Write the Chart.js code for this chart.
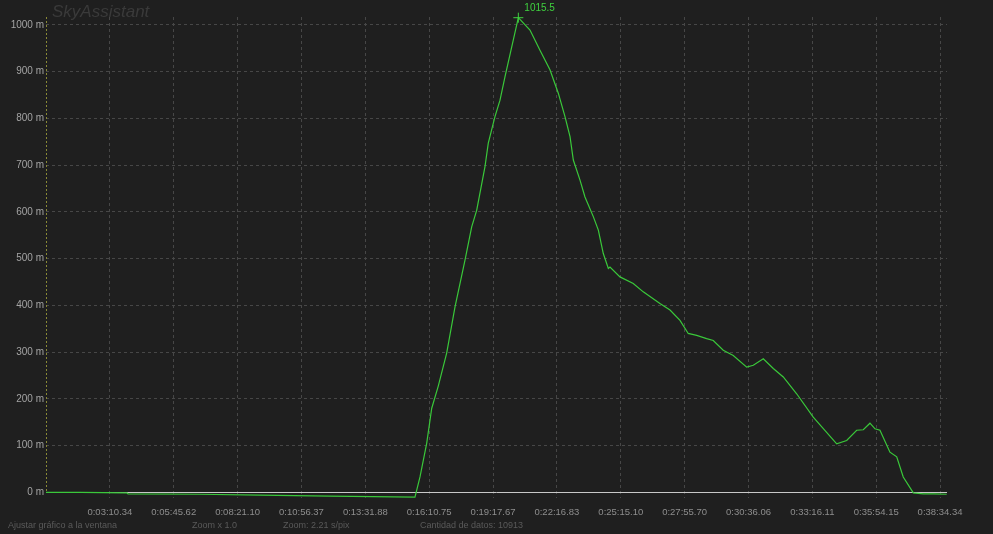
<!DOCTYPE html>
<html>
<head>
<meta charset="utf-8">
<script src="https://cdn.jsdelivr.net/npm/chart.js@4.4.1/dist/chart.umd.min.js"></script>
<style>
html, body { margin: 0; padding: 0; background: #1f1f1f; overflow: hidden; }
#wrap { width: 993px; height: 534px; position: relative; }
</style>
</head>
<body>
<div id="wrap"><canvas id="c" width="993" height="534"></canvas></div>
<script>
// sample index (of 10913) and altitude in metres
var sampleIdx = [0, 412, 981, 993, 1865, 2592, 3440, 4469, 4530, 4611, 4672, 4752, 4853, 4954, 5075, 5156, 5217,
    5317, 5357, 5438, 5499, 5559, 5721, 5862, 5983, 6104, 6205, 6286, 6347, 6387, 6468, 6528, 6629, 6690,
    6750, 6811, 6831, 6952, 7113, 7234, 7436, 7558, 7679, 7779, 7881, 8002, 8082, 8203, 8324, 8487, 8567,
    8688, 8809, 8930, 9092, 9293, 9577, 9698, 9819, 9899, 9980, 10041, 10101, 10222, 10304, 10383, 10505,
    10626, 10747, 10909];
var altitude = [0, 0, -1, -3, -4, -6, -8, -10, 33, 105, 180, 228, 298, 397, 497, 568, 604,
    697, 747, 804, 839, 889, 1015.5, 989, 946, 904, 854, 804, 761, 711, 668, 632, 590, 561,
    511, 479, 482, 461, 447, 429, 404, 390, 368, 340, 336, 329, 325, 304, 293, 268, 272,
    286, 265, 247, 211, 161, 104, 111, 133, 134, 148, 136, 133, 86, 76, 33, -1,
    -3, -3, -4];

var tickIdx = [774, 1547, 2321, 3094, 3868, 4641, 5415, 6188, 6962, 7735, 8509, 9282, 10056, 10829];
var tickLabels = ['0:03:10.34', '0:05:45.62', '0:08:21.10', '0:10:56.37', '0:13:31.88', '0:16:10.75', '0:19:17.67',
    '0:22:16.83', '0:25:15.10', '0:27:55.70', '0:30:36.06', '0:33:16.11', '0:35:54.15', '0:38:34.34'];
var yTicks = [0, 100, 200, 300, 400, 500, 600, 700, 800, 900, 1000];

var statusTexts = ['Ajustar gráfico a la ventana', 'Zoom x 1.0', 'Zoom: 2.21 s/pix', 'Cantidad de datos: 10913'];

var points = sampleIdx.map(function (v, i) { return { x: v, y: altitude[i] }; });

var decor = {
    id: 'decor',
    beforeDatasetsDraw: function (chart) {
        var ctx = chart.ctx, a = chart.chartArea, ys = chart.scales.y;
        ctx.save();
        // watermark
        ctx.font = 'italic 17px "Liberation Sans", Arial, sans-serif';
        ctx.fillStyle = '#3a3a3a';
        ctx.textBaseline = 'top';
        ctx.fillText('SkyAssistant', 52, 4);
        // zero line
        var y0 = Math.round(ys.getPixelForValue(0)) + 0.5;
        ctx.strokeStyle = '#c8c8c8';
        ctx.lineWidth = 1;
        ctx.beginPath();
        ctx.moveTo(a.left, y0);
        ctx.lineTo(a.right, y0);
        ctx.stroke();
        // dotted yellow axis
        ctx.strokeStyle = '#8a8a36';
        ctx.setLineDash([2, 2]);
        ctx.beginPath();
        ctx.moveTo(a.left + 0.5, a.top);
        ctx.lineTo(a.left + 0.5, y0);
        ctx.stroke();
        ctx.restore();
    },
    afterDatasetsDraw: function (chart) {
        var ctx = chart.ctx, xs = chart.scales.x, ys = chart.scales.y;
        var mi = 0;
        for (var i = 1; i < altitude.length; i++) {
            if (altitude[i] > altitude[mi]) mi = i;
        }
        var px = xs.getPixelForValue(sampleIdx[mi]);
        var py = ys.getPixelForValue(altitude[mi]);
        ctx.save();
        ctx.strokeStyle = '#3fd03f';
        ctx.lineWidth = 1;
        ctx.beginPath();
        ctx.moveTo(px - 5, py); ctx.lineTo(px + 5, py);
        ctx.moveTo(px, py - 5); ctx.lineTo(px, py + 5);
        ctx.stroke();
        ctx.fillStyle = '#3fd03f';
        ctx.font = '10px "Liberation Sans", Arial, sans-serif';
        ctx.textBaseline = 'middle';
        ctx.fillText(altitude[mi].toFixed(1), px + 6, py - 9);

        // status bar
        ctx.fillStyle = '#5a5a5a';
        ctx.font = '9px "Liberation Sans", Arial, sans-serif';
        var sx = [8, 192, 283, 420];
        for (var k = 0; k < statusTexts.length; k++) {
            ctx.fillText(statusTexts[k], sx[k], 526);
        }
        ctx.restore();
    }
};

var config = {
    type: 'line',
    data: {
        datasets: [{
            data: points,
            borderColor: '#3ac83a',
            borderWidth: 1.2,
            pointRadius: 0,
            tension: 0
        }]
    },
    options: {
        responsive: false,
        animation: false,
        devicePixelRatio: 1,
        layout: { padding: { top: 17, right: 46, left: 0, bottom: 0 } },
        plugins: { legend: { display: false }, tooltip: { enabled: false } },
        scales: {
            x: {
                type: 'linear',
                min: 0,
                max: 10913,
                afterBuildTicks: function (s) {
                    s.ticks = tickIdx.map(function (v) { return { value: v }; });
                },
                afterFit: function (s) { s.height = 36; },
                ticks: {
                    autoSkip: false,
                    maxRotation: 0,
                    padding: 9,
                    color: '#8e8e8e',
                    font: { family: '"Liberation Sans", Arial, sans-serif', size: 9.5 },
                    callback: function (v, i) { return tickLabels[i]; }
                },
                grid: { color: '#474747', drawTicks: false, lineWidth: 1 },
                border: { display: false, dash: [3, 3] }
            },
            y: {
                type: 'linear',
                min: -12,
                max: 1017,
                afterBuildTicks: function (s) {
                    s.ticks = yTicks.map(function (v) { return { value: v }; });
                },
                afterFit: function (s) { s.width = 46; },
                ticks: {
                    padding: 2,
                    color: '#a4a4a4',
                    font: { family: '"Liberation Sans", Arial, sans-serif', size: 10 },
                    callback: function (v) { return v + ' m'; }
                },
                grid: {
                    drawTicks: false,
                    lineWidth: 1,
                    color: function (c) { return c.tick && c.tick.value === 0 ? 'rgba(0,0,0,0)' : '#474747'; }
                },
                border: { display: false, dash: [3, 3] }
            }
        }
    },
    plugins: [decor]
};

new Chart(document.getElementById('c'), config);
</script>
</body>
</html>
